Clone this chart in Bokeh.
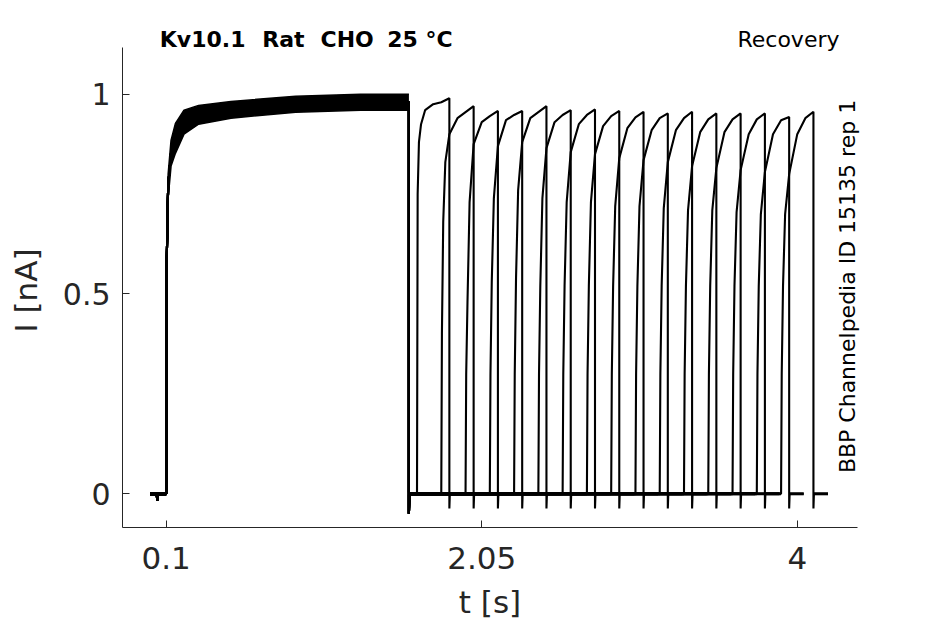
from bokeh.plotting import figure
from bokeh.models import FixedTicker, Label, Range1d
from bokeh.embed import file_html
from bokeh.resources import INLINE
import math

# ---------------- data ----------------
X_TICKS = [0.1, 2.05, 4]
X_TICK_LABELS = ["0.1", "2.05", "4"]
Y_TICKS = [0, 0.5, 1]
Y_TICK_LABELS = ["0", "0.5", "1"]

SWEEP_START = 0.0            # s
PRE_DIP_T = 0.045            # small artefact before the first pulse
PRE_DIP_I = -0.017           # nA

P1_ON = 0.1                  # s, onset of conditioning pulse
P1_OFF = 1.6                 # s, end of conditioning pulse
P1_OFFSETS = [0.0, 0.003, 0.012, 0.03, 0.057, 0.11, 0.2, 0.4, 0.8, 1.2, 1.5]
P1_UPPER = [0.0, 0.60, 0.80, 0.885, 0.927, 0.96, 0.972, 0.982, 0.995, 1.0, 1.0]
P1_LOWER = [0.0, 0.55, 0.74, 0.82, 0.852, 0.90, 0.925, 0.94, 0.955, 0.96, 0.96]
P1_END_SPIKE = -0.05

# recovery (test) pulses, one per sweep
REC_ON = [1.65, 1.80, 1.95, 2.10, 2.25, 2.40, 2.55, 2.70,
          2.85, 3.00, 3.15, 3.30, 3.45, 3.60, 3.75, 3.90]
REC_OFF = [1.85, 2.00, 2.15, 2.30, 2.45, 2.60, 2.75, 2.90,
           3.05, 3.20, 3.35, 3.50, 3.65, 3.80, 3.95, 4.10]
REC_END_SPIKE = -0.037
TAIL = 0.09

RISE_T = [0.0, 0.004, 0.012, 0.025, 0.05, 0.1, 0.15, 0.2]
RISE_I = [
    [0, 0.75, 0.88, 0.925, 0.96, 0.975, 0.98, 0.99],
    [0, 0.40, 0.68, 0.83, 0.90, 0.94, 0.955, 0.97],
    [0, 0.30, 0.48, 0.73, 0.875, 0.93, 0.945, 0.958],
    [0, 0.30, 0.53, 0.74, 0.87, 0.935, 0.948, 0.958],
    [0, 0.30, 0.54, 0.76, 0.88, 0.94, 0.955, 0.97],
    [0, 0.30, 0.52, 0.74, 0.865, 0.93, 0.948, 0.96],
    [0, 0.30, 0.52, 0.73, 0.855, 0.925, 0.948, 0.962],
    [0, 0.30, 0.52, 0.73, 0.85, 0.92, 0.945, 0.958],
    [0, 0.30, 0.52, 0.72, 0.84, 0.915, 0.942, 0.956],
    [0, 0.30, 0.52, 0.72, 0.835, 0.91, 0.94, 0.952],
    [0, 0.30, 0.52, 0.715, 0.83, 0.91, 0.94, 0.956],
    [0, 0.30, 0.52, 0.71, 0.82, 0.905, 0.937, 0.952],
    [0, 0.30, 0.52, 0.71, 0.815, 0.905, 0.937, 0.952],
    [0, 0.30, 0.52, 0.705, 0.81, 0.90, 0.937, 0.952],
    [0, 0.30, 0.52, 0.70, 0.805, 0.90, 0.935, 0.943],
    [0, 0.30, 0.52, 0.70, 0.80, 0.90, 0.94, 0.956],
]

# title "Kv10.1  Rat  CHO  25 °C" (words set apart by wide gaps)
TITLE_WORDS = ["Kv10.1", "Rat", "CHO", "25 °C"]
TITLE_WORD_X = [0.0604, 0.6933, 1.0536, 1.4658]
TITLE_RIGHT = "Recovery"
SIDE_NOTE = "BBP Channelpedia ID 15135 rep 1"
X_LABEL = "t [s]"
Y_LABEL = "I [nA]"

# axes box (data units)
AX_X0, AX_X1 = -0.170, 4.3723
AX_Y0, AX_Y1 = -0.0836, 1.1169

# ---------------- figure ----------------
FONT = "DejaVu Sans"
TXT = "#262626"

# the frame fills the whole canvas; the axes sit at fixed locations inside it
p = figure(width=935, height=620, title=None,
           x_range=Range1d(-0.92404, 4.85434), y_range=Range1d(-0.31707, 1.23448),
           output_backend="svg", toolbar_location=None,
           min_border_left=0, min_border_right=0,
           min_border_top=0, min_border_bottom=0)
p.xgrid.visible = False
p.ygrid.visible = False
p.outline_line_color = None
p.background_fill_color = "white"
p.border_fill_color = "white"

for ax in (p.xaxis[0], p.yaxis[0]):
    ax.axis_line_color = TXT
    ax.axis_line_width = 1
    ax.major_tick_line_color = TXT
    ax.major_tick_in = 7
    ax.major_tick_out = 0
    ax.minor_tick_line_color = None
    ax.major_label_text_font = FONT
    ax.major_label_text_color = TXT

p.xaxis.fixed_location = AX_Y0
p.xaxis.bounds = (AX_X0, AX_X1)
p.xaxis.ticker = FixedTicker(ticks=X_TICKS)
p.xaxis.major_label_overrides = dict(zip(X_TICKS, X_TICK_LABELS))
p.xaxis.major_label_text_font_size = "31px"
p.xaxis.major_label_standoff = 20

p.yaxis.fixed_location = AX_X0
p.yaxis.bounds = (AX_Y0, AX_Y1)
p.yaxis.ticker = FixedTicker(ticks=Y_TICKS)
p.yaxis.major_label_overrides = dict(zip(Y_TICKS, Y_TICK_LABELS))
p.yaxis.major_label_text_font_size = "30px"
p.yaxis.major_label_standoff = 12

# ---------------- traces ----------------
p1_mid = [(u + l) / 2 for u, l in zip(P1_UPPER, P1_LOWER)]

sweep_xs, sweep_ys = [], []
base_xs, base_ys = [], []
for on, off, rise in zip(REC_ON, REC_OFF, RISE_I):
    xs = [SWEEP_START, PRE_DIP_T - 0.004, PRE_DIP_T, PRE_DIP_T + 0.004, P1_ON]
    ys = [0, 0, PRE_DIP_I, 0, 0]
    xs += [P1_ON + o for o in P1_OFFSETS] + [P1_OFF, P1_OFF, P1_OFF + 0.003]
    ys += p1_mid + [p1_mid[-1], P1_END_SPIKE, 0]
    xs += [on] + [on + o for o in RISE_T] + [off, off, off + 0.003, off + TAIL]
    ys += [0] + rise + [rise[-1], REC_END_SPIKE, 0, 0]
    sweep_xs.append(xs)
    sweep_ys.append(ys)
    base_xs += [[SWEEP_START, P1_ON], [P1_OFF + 0.003, on], [off + 0.003, off + TAIL]]
    base_ys += [[0, 0], [0, 0], [0, 0]]

p.multi_line(base_xs, base_ys, line_color="black", line_width=3)
p.multi_line(sweep_xs, sweep_ys, line_color="black", line_width=2.1)

band_x = [P1_ON + o for o in P1_OFFSETS] + [P1_OFF]
p.varea(x=band_x, y1=P1_LOWER + [P1_LOWER[-1]], y2=P1_UPPER + [P1_UPPER[-1]],
        fill_color="black")
p.line(band_x, P1_UPPER + [P1_UPPER[-1]], line_color="black", line_width=1.5)
p.line(band_x, P1_LOWER + [P1_LOWER[-1]], line_color="black", line_width=1.5)

# ---------------- texts ----------------
for word, wx in zip(TITLE_WORDS, TITLE_WORD_X):
    p.add_layout(Label(x=wx, y=1.1379, text=word, text_font=FONT,
                       text_font_size="22px", text_font_style="bold",
                       text_color="black", text_align="left",
                       text_baseline="alphabetic"))
p.add_layout(Label(x=4.261, y=1.1379, text=TITLE_RIGHT, text_font=FONT,
                   text_font_size="22px", text_color="black",
                   text_align="right", text_baseline="alphabetic"))
p.add_layout(Label(x=4.31, y=0.5188, text=SIDE_NOTE, text_font=FONT,
                   text_font_size="22px", text_color="black", angle=math.pi / 2,
                   text_align="center", text_baseline="alphabetic"))
p.add_layout(Label(x=2.1011, y=-0.2708, text=X_LABEL, text_font=FONT,
                   text_font_size="31px", text_color=TXT,
                   text_align="center", text_baseline="alphabetic"))
p.add_layout(Label(x=-0.7695, y=0.5088, text=Y_LABEL, text_font=FONT,
                   text_font_size="31px", text_color=TXT, angle=math.pi / 2,
                   text_align="center", text_baseline="alphabetic"))

open("out.html", "w").write(file_html(p, INLINE))
